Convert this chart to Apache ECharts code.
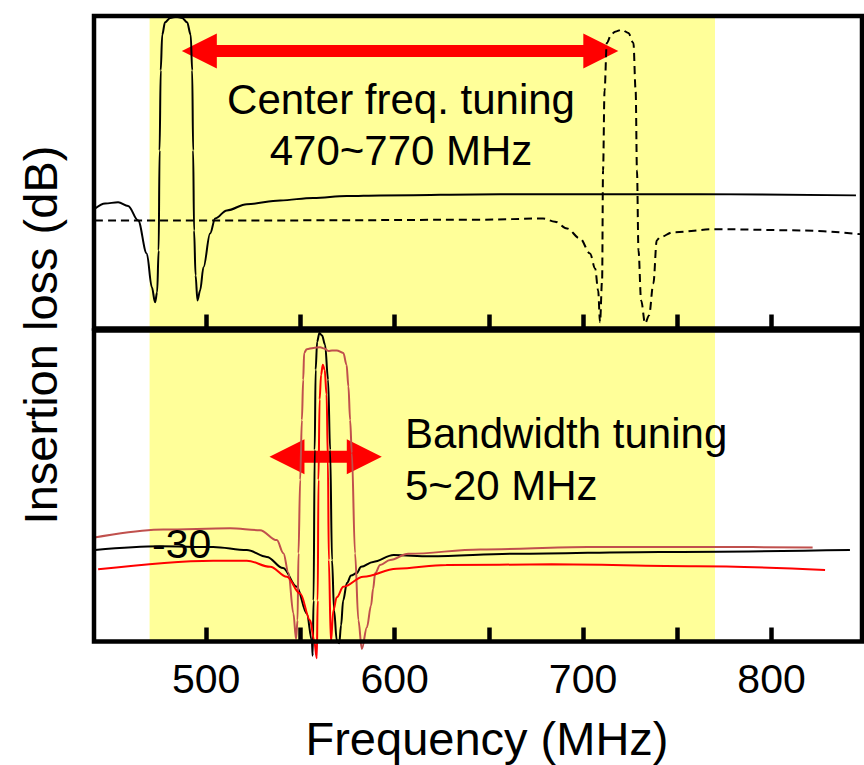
<!DOCTYPE html>
<html>
<head>
<meta charset="utf-8">
<script src="https://cdn.jsdelivr.net/npm/echarts@6.0.0/dist/echarts.min.js"></script>
<style>
html, body { margin: 0; padding: 0; background: #fff; }
#main { width: 864px; height: 765px; }
</style>
</head>
<body>
<div id="main"></div>
<script>
// x axis (MHz)
var xTicks = [500, 550, 600, 650, 700, 750, 800];
var xLabels = [500, 600, 700, 800];
var tuningBand = [470, 770];

// top panel: center frequency tuning  [MHz, dB]
var lowSolid = [[441.1,-30.8],[446.4,-30.0],[453.3,-29.8],[458.6,-30.4],[463.9,-32.7],[468.5,-38.0],[471.2,-43.4],[472.9,-45.8],[474.0,-44.2],[474.8,-37.5],[475.3,-21.5],[475.9,-8.7],[476.7,-3.0],[478.2,-1.0],[480.9,-0.3],[484.1,-0.1],[487.3,-0.3],[489.9,-1.0],[491.8,-3.0],[492.6,-8.7],[493.1,-21.5],[493.6,-34.3],[494.4,-41.5],[495.4,-45.5],[496.8,-43.9],[498.6,-40.2],[502.1,-34.8],[504.8,-32.4],[511.0,-31.1],[521.6,-30.1],[539.3,-29.5],[556.8,-29.1],[574.6,-28.8],[592.3,-28.7],[656.0,-28.5],[762.1,-28.5],[844.8,-28.7]];
var highDashed = [[441.1,-32.7],[549.9,-32.7],[645.4,-32.6],[678.8,-32.4],[685.1,-32.9],[691.5,-34.0],[698.4,-35.6],[703.7,-38.0],[706.4,-40.4],[708.0,-43.9],[709.0,-49.0],[710.1,-42.3],[710.6,-24.7],[711.4,-11.9],[712.6,-4.3],[714.9,-3.0],[717.0,-2.5],[720.5,-2.2],[724.0,-2.7],[726.7,-4.3],[727.9,-11.9],[728.6,-24.7],[729.4,-37.5],[730.8,-45.5],[732.9,-49.2],[735.0,-47.9],[737.3,-42.8],[739.1,-35.9],[740.8,-35.4],[747.7,-34.6],[770.0,-34.1],[815.1,-34.3],[847.0,-34.9]];

// bottom panel: bandwidth tuning  [MHz, dB]
var bwBlack = [[441.1,-35.3],[475.6,-34.7],[503.7,-34.8],[521.6,-35.3],[532.2,-36.4],[540.8,-38.2],[548.1,-41.2],[553.4,-45.5],[556.1,-49.8],[556.5,-52.3],[557.0,-43.4],[557.6,-19.2],[558.1,-6.3],[558.9,-1.8],[560.1,-0.4],[561.5,-0.8],[563.1,-2.3],[564.7,-7.9],[565.8,-19.2],[566.8,-36.9],[567.9,-45.0],[569.3,-49.8],[570.6,-50.3],[571.6,-47.4],[572.7,-43.4],[574.7,-40.6],[576.9,-39.4],[579.9,-39.0],[582.2,-38.0],[588.6,-37.2],[599.5,-36.1],[618.6,-36.3],[664.4,-35.9],[740.7,-35.6],[841.6,-35.3]];
var bwRed = [[442.7,-38.4],[503.7,-37.0],[521.6,-37.0],[534.0,-38.0],[542.8,-39.6],[549.9,-42.3],[555.2,-46.6],[557.3,-49.8],[558.7,-52.7],[559.2,-43.4],[559.6,-24.0],[560.2,-11.1],[561.0,-7.1],[561.9,-5.5],[562.9,-6.3],[563.9,-10.3],[564.6,-20.8],[565.1,-36.9],[566.2,-50.1],[567.5,-45.0],[569.3,-42.9],[572.8,-41.2],[583.4,-39.6],[601.0,-38.3],[627.4,-37.7],[683.4,-37.6],[759.8,-37.9],[828.4,-38.5]];
var bwRose = [[434.9,-33.6],[477.3,-32.0],[512.7,-31.8],[528.6,-32.1],[537.5,-33.7],[541.0,-35.8],[543.7,-39.0],[546.3,-45.5],[547.7,-49.6],[548.5,-46.6],[549.0,-35.8],[549.9,-24.0],[550.8,-14.4],[551.5,-7.9],[552.0,-3.6],[553.4,-3.0],[556.9,-2.8],[560.5,-2.7],[562.6,-2.9],[564.9,-3.3],[566.8,-3.2],[569.3,-3.2],[572.8,-3.6],[574.5,-5.5],[575.5,-9.0],[576.4,-14.4],[577.3,-19.7],[579.0,-35.8],[580.8,-46.6],[582.6,-51.2],[585.3,-47.7],[587.5,-44.2],[588.6,-41.5],[589.7,-39.0],[592.3,-37.7],[597.6,-36.9],[607.2,-35.9],[645.4,-35.2],[702.5,-34.8],[769.3,-34.8],[821.8,-34.9]];

// arrows: [from MHz, to MHz, level dB]
var centerArrow = [[487.1, 718.7, -5.6]];
var bwArrow = [[533.6, 593.2, -20.3]];

var FONT = 'Liberation Sans, Arial, sans-serif';
var myChart = echarts.init(document.getElementById('main'), null, {renderer: 'svg'});

function arrowItem(params, api) {
    var a = api.coord([api.value(0), api.value(2)]);
    var b = api.coord([api.value(1), api.value(2)]);
    var y = a[1], xl = a[0], xr = b[0];
    var h = 35, w = 17.5, t = 6;
    return {
        type: 'polygon',
        shape: {points: [[xl, y], [xl + h, y - w], [xl + h, y - t], [xr - h, y - t], [xr - h, y - w],
                         [xr, y], [xr - h, y + w], [xr - h, y + t], [xl + h, y + t], [xl + h, y + w]]},
        style: {fill: '#ff0000'}
    };
}

function xAxisOf(idx, withLabels) {
    return {
        type: 'value', gridIndex: idx, position: 'bottom', min: 440.5, max: 848, z: 5,
        splitLine: {show: false},
        axisLine: {show: false, onZero: false},
        axisTick: {show: true, inside: true, length: 14, customValues: xTicks,
                   lineStyle: {color: '#000', width: 4.5}},
        axisLabel: {show: withLabels, customValues: xLabels, margin: 17,
                    fontSize: 41, fontFamily: FONT, color: '#000'}
    };
}

function lineSeries(idx, data, color, dash) {
    return {
        type: 'line', xAxisIndex: idx, yAxisIndex: idx, data: data,
        showSymbol: false, symbol: 'none', clip: false, z: 3,
        smooth: 0.35, smoothMonotone: 'x', animation: false,
        lineStyle: {color: color, width: 2, type: dash ? [8, 5] : 'solid'}
    };
}

function bandSeries(idx) {
    return {
        type: 'line', xAxisIndex: idx, yAxisIndex: idx, data: [], z: 1,
        markArea: {silent: true, itemStyle: {color: '#ffff99', opacity: 1},
                   data: [[{xAxis: tuningBand[0]}, {xAxis: tuningBand[1]}]]}
    };
}

function arrowSeries(idx, data) {
    return {
        type: 'custom', xAxisIndex: idx, yAxisIndex: idx, z: 2, animation: false,
        dimensions: ['from', 'to', 'level'],
        encode: {x: [0, 1], y: 2},
        renderItem: arrowItem, data: data
    };
}

var txt = function (text, x, y, size, align, rot) {
    return {
        type: 'text', x: x, y: y, z: 10, rotation: rot || 0,
        style: {text: text, fontSize: size, fontFamily: FONT, fill: '#000',
                align: align, verticalAlign: 'middle'}
    };
};

var option = {
    backgroundColor: '#fff',
    animation: false,
    grid: [
        {left: 94, right: 2, top: 16, bottom: 436.5, show: true, z: 6,
         borderColor: '#000', borderWidth: 4.5, backgroundColor: 'transparent', outerBoundsMode: 'none'},
        {left: 94, right: 2, top: 330.5, bottom: 123.5, show: true, z: 6,
         borderColor: '#000', borderWidth: 4.5, backgroundColor: 'transparent', outerBoundsMode: 'none'}
    ],
    xAxis: [xAxisOf(0, false), xAxisOf(1, true)],
    yAxis: [
        {type: 'value', gridIndex: 0, min: -50, max: 0, show: false},
        {type: 'value', gridIndex: 1, min: -50, max: 0, show: false}
    ],
    series: [
        bandSeries(0),
        bandSeries(1),
        arrowSeries(0, centerArrow),
        arrowSeries(1, bwArrow),
        lineSeries(0, lowSolid, '#000', false),
        lineSeries(0, highDashed, '#000', true),
        lineSeries(1, bwBlack, '#000', false),
        lineSeries(1, bwRose, '#c0504d', false),
        lineSeries(1, bwRed, '#ff0000', false)
    ],
    graphic: [
        txt('Center freq. tuning', 401, 99, 42, 'center'),
        txt('470~770 MHz', 401, 150, 42, 'center'),
        txt('Bandwidth tuning', 405, 433, 42, 'left'),
        txt('5~20 MHz', 405, 485, 42, 'left'),
        txt('-30', 152, 544, 41, 'left'),
        txt('Frequency (MHz)', 487, 738, 47, 'center'),
        txt('Insertion loss (dB)', 40, 335, 47, 'center', Math.PI / 2)
    ]
};
myChart.setOption(option);
</script>
</body>
</html>
